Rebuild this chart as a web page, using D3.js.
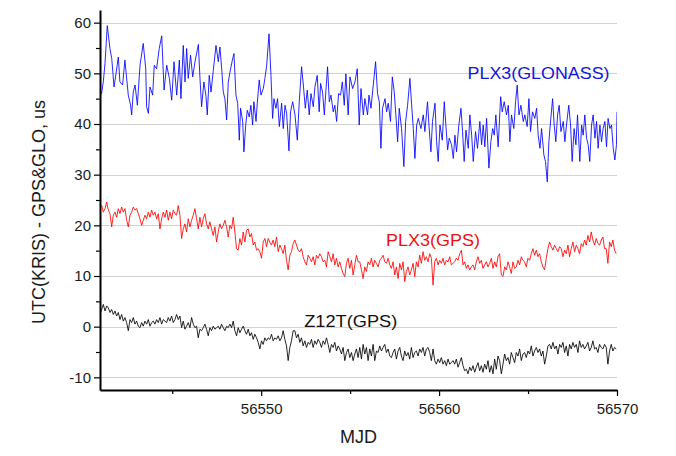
<!DOCTYPE html>
<html><head><meta charset="utf-8">
<script src="https://cdn.jsdelivr.net/npm/d3@7"></script>
<style>body{margin:0;background:#fff}svg{display:block}text{font-family:"Liberation Sans",Arial,sans-serif}</style>
</head><body><svg id="c" width="676" height="456"></svg>
<script>
// ---- data ----
const xTicks = [56550, 56560, 56570];
const xMinorTicks = [56545, 56555, 56565];
const yTicks = [-10, 0, 10, 20, 30, 40, 50, 60];
const yMinorTicks = [-5, 5, 15, 25, 35, 45, 55];
const xLabel = "MJD";
const yLabel = "UTC(KRIS) - GPS&GLO, us";
const seriesNames = ["PLX3(GLONASS)", "PLX3(GPS)", "Z12T(GPS)"];

const gloMJD = [
56540.94,56541.03,56541.13,56541.22,56541.35,56541.50,56541.60,56541.73,56541.84,56541.97,
56542.06,56542.21,56542.34,56542.53,56542.66,56542.72,56542.81,56542.91,56543.04,56543.19,
56543.37,56543.51,56543.56,56543.66,56543.75,56543.90,56543.99,56544.12,56544.27,56544.41,
56544.54,56544.69,56544.84,56544.97,56545.10,56545.25,56545.40,56545.49,56545.62,56545.72,
56545.81,56545.90,56546.03,56546.15,56546.28,56546.47,56546.56,56546.65,56546.78,56546.90,
56546.97,56547.08,56547.18,56547.31,56547.46,56547.59,56547.68,56547.78,56547.87,56547.96,
56548.06,56548.15,56548.28,56548.38,56548.47,56548.58,56548.68,56548.77,56548.84,56548.96,
56549.03,56549.13,56549.22,56549.33,56549.42,56549.52,56549.59,56549.71,56549.78,56549.89,
56549.99,56550.12,56550.21,56550.31,56550.44,56550.55,56550.64,56550.72,56550.83,56550.92,
56551.02,56551.15,56551.24,56551.34,56551.43,56551.56,56551.65,56551.77,56551.90,56552.03,
56552.14,56552.27,56552.37,56552.48,56552.59,56552.70,56552.80,56552.93,56553.02,56553.15,
56553.26,56553.34,56553.45,56553.55,56553.64,56553.73,56553.83,56553.92,56554.05,56554.14,
56554.24,56554.35,56554.46,56554.56,56554.67,56554.76,56554.89,56554.99,56555.14,56555.27,
56555.40,56555.51,
56555.61,56555.74,56555.83,56555.98,56556.06,56556.17,56556.30,56556.43,56556.54,56556.64,
56556.73,56556.82,56556.96,56557.05,56557.14,56557.27,56557.37,56557.48,56557.57,56557.67,
56557.76,56557.89,56558.02,56558.12,56558.23,56558.36,56558.45,56558.55,56558.64,56558.74,
56558.83,56558.98,56559.11,56559.20,56559.35,56559.43,56559.54,56559.63,56559.77,56559.86,
56559.95,56560.05,56560.18,56560.29,56560.38,56560.48,56560.57,56560.70,56560.80,56560.89,
56560.98,56561.11,56561.23,56561.32,56561.41,56561.51,56561.64,56561.73,56561.83,56561.92,
56562.05,56562.16,56562.29,56562.39,56562.48,56562.57,56562.67,56562.80,56562.91,56563.01,
56563.10,56563.19,56563.32,56563.46,56563.55,56563.66,56563.79,56563.89,56563.98,56564.07,
56564.20,56564.30,56564.39,56564.49,56564.60,56564.73,56564.82,56564.95,56565.05,56565.14,
56565.25,56565.38,56565.48,56565.57,56565.67,56565.76,56565.89,56565.98,56566.08,56566.17,
56566.28,56566.38,56566.47,56566.56,56566.66,56566.75,56566.85,56566.98,56567.07,56567.16,
56567.29,56567.39,56567.48,56567.59,56567.69,56567.78,56567.91,56568.01,56568.10,56568.19,
56568.29,56568.38,56568.47,56568.57,56568.66,56568.76,56568.85,56568.94,56569.04,56569.13,
56569.22,56569.32,56569.41,56569.50,56569.60,56569.69,56569.79,56569.88,56569.97,56570.00
];
const gloUs = [
46.5,46.0,48.5,51.9,59.4,54.9,52.9,47.3,49.9,53.2,
48.3,47.7,52.6,45.7,43.7,41.8,46.3,47.7,43.7,51.6,
55.9,50.9,43.4,42.1,47.3,45.7,51.6,50.9,54.9,57.4,
46.7,51.6,49.0,44.7,52.3,45.7,52.6,45.0,55.5,48.3,
54.9,49.0,53.6,49.3,52.3,55.7,49.0,43.4,48.3,45.4,
41.8,49.6,46.3,50.6,55.5,52.3,55.2,50.9,46.3,45.0,
40.8,48.3,50.9,52.6,53.9,45.7,44.1,36.8,43.1,40.5,
34.5,39.8,42.7,41.4,43.7,39.8,44.4,40.5,44.1,48.7,
45.7,47.0,49.0,51.6,57.8,49.6,41.1,45.0,43.1,45.0,
39.5,44.1,39.1,43.7,42.1,34.7,42.4,44.4,41.8,36.8,
44.4,51.3,47.7,43.1,46.7,41.8,46.0,43.4,47.3,49.6,
42.4,48.0,46.3,41.8,46.7,51.3,44.4,45.7,42.4,43.7,
40.5,46.0,45.7,48.3,43.7,49.9,41.8,49.3,47.0,48.3,
50.9,39.8,
47.0,41.8,45.0,41.8,45.7,43.1,47.7,52.3,46.0,44.4,
35.2,43.1,45.0,42.4,44.1,40.5,49.3,46.3,41.8,36.5,
43.1,39.1,31.6,40.5,43.7,49.0,44.1,39.1,33.2,39.8,
41.1,39.1,41.8,38.5,44.4,39.8,34.5,40.5,44.1,36.5,
32.6,39.8,36.8,44.4,39.8,34.9,37.2,35.9,33.2,37.8,
34.5,39.8,43.1,38.5,32.6,38.8,35.2,41.8,37.8,32.6,
38.5,35.2,40.5,35.9,39.8,35.5,41.1,31.3,36.5,39.1,
37.8,41.8,35.5,45.4,42.4,44.4,41.8,43.7,36.5,41.8,
39.1,44.4,47.7,41.8,43.7,40.5,41.8,39.5,45.0,38.5,
42.4,41.1,43.1,37.8,35.2,39.1,33.9,32.6,28.6,36.5,
41.1,45.0,39.8,36.5,41.8,43.7,38.5,40.5,36.5,39.8,
43.7,39.8,32.6,39.1,35.9,41.8,32.6,39.8,37.8,41.8,
37.2,35.9,32.6,39.8,41.8,37.2,40.5,35.2,39.8,36.5,
39.1,40.5,35.5,41.1,39.1,39.8,35.2,32.9,35.9,42.4
];

// GPS series: regular sampling starting at gpsStartMJD with gpsStepMJD
const gpsStartMJD = 56540.94;
const gpsStepMJD = 0.0936;
const plx3GpsUs = [
23.6,23.9,22.6,23.3,24.6,23.0,22.3,19.7,22.0,22.6,
21.6,23.3,22.3,23.6,22.6,23.3,21.0,19.7,22.0,22.6,
23.6,23.0,23.3,22.3,21.3,20.0,21.0,22.0,21.3,22.6,
21.6,23.0,22.0,22.6,21.3,22.3,19.3,21.3,22.6,21.6,
23.0,21.0,22.6,21.3,23.0,22.3,22.0,23.9,22.0,17.4,
19.3,20.3,18.7,21.3,19.7,21.0,22.0,23.3,21.3,19.3,
21.6,19.7,21.3,22.3,20.3,19.3,20.7,19.3,18.0,19.7,
16.7,18.7,20.3,19.3,20.0,21.0,19.7,17.7,20.0,19.3,
21.6,18.7,15.4,15.1,17.4,16.1,18.7,16.7,19.0,19.3,
17.7,18.4,16.1,16.7,15.1,15.4,14.8,13.5,16.7,17.4,
15.8,17.4,16.7,16.1,17.1,15.8,17.7,14.8,16.1,15.4,
14.4,16.1,13.1,11.2,14.1,14.8,16.4,17.1,16.1,15.1,
14.8,15.4,13.8,12.8,12.2,14.1,13.5,12.8,13.8,12.2,
14.1,13.5,14.4,13.8,12.8,13.1,11.8,14.8,13.8,12.8,
14.4,12.2,13.5,11.8,12.8,11.5,10.5,9.9,12.5,13.5,
11.5,13.1,10.2,12.2,14.1,12.8,
12.8,11.2,9.5,11.8,10.9,12.8,12.2,13.5,11.8,13.1,
12.5,11.8,13.1,13.5,14.1,12.8,12.5,13.5,12.2,11.5,
12.8,10.2,11.8,9.5,12.5,11.2,12.8,8.9,10.9,11.8,
10.2,11.2,12.5,9.9,12.8,11.8,14.1,12.5,14.8,13.1,
13.8,12.8,14.4,13.5,8.2,12.8,13.5,12.2,13.1,12.5,
13.5,12.2,13.1,12.8,13.8,12.2,12.5,12.8,13.5,13.1,
14.4,15.1,12.2,12.8,11.5,12.2,11.2,11.8,12.2,11.2,
12.8,13.8,12.5,13.1,11.5,12.2,12.8,11.8,12.5,13.5,
11.5,12.8,11.8,13.8,14.4,10.2,9.9,11.8,11.2,12.8,
11.8,10.5,12.8,11.5,11.8,13.1,12.2,13.8,13.1,12.8,
11.8,13.5,13.1,14.4,15.4,14.1,15.1,13.8,14.4,12.8,
11.8,11.2,13.5,15.4,16.7,15.8,15.1,16.1,15.4,14.8,
15.8,15.4,13.8,15.1,14.4,16.1,13.8,15.4,16.7,14.8,
16.1,15.4,14.4,16.4,15.8,17.1,16.1,18.0,16.7,18.7,
17.1,16.1,17.4,16.4,16.1,17.1,17.7,15.4,15.4,12.5,
16.7,15.8,17.1,15.1,14.4
];
const z12tGpsUs = [
2.4,3.4,4.4,3.1,4.1,3.7,2.8,3.4,2.4,3.1,
2.1,2.8,1.4,2.4,1.1,1.8,0.8,-0.8,1.4,0.8,
1.8,0.5,1.1,0.1,-0.2,0.8,0.1,1.1,0.5,1.4,
0.1,0.8,1.1,0.5,1.4,0.8,1.8,0.5,1.4,1.1,
0.8,1.8,1.1,2.1,0.8,1.4,2.4,1.4,2.1,-0.2,
1.1,-0.5,0.1,0.8,-0.2,1.8,0.5,-0.2,0.1,-2.2,
-0.5,-0.8,-0.2,0.5,-0.5,-1.8,-0.2,-0.8,0.1,-0.5,
-0.2,0.1,-0.5,0.5,-0.2,-0.8,0.1,-0.2,0.5,-0.2,
1.1,-0.8,-1.8,-0.2,-1.2,-0.5,0.1,-0.8,-1.5,-0.5,
-1.8,-1.2,-2.5,-1.5,-2.2,-3.1,-4.4,-2.8,-3.5,-2.2,
-2.8,-2.2,-2.5,-1.5,-2.8,-2.2,-2.5,-1.8,-2.8,-2.2,
-0.8,-2.5,-3.8,-6.7,-4.1,-2.8,-0.8,-0.8,-2.2,-1.5,
-3.1,-2.2,-3.8,-2.8,-4.1,-3.1,-3.5,-2.5,-4.1,-2.8,
-3.5,-2.5,-3.1,-4.1,-2.8,-3.5,-2.2,-3.5,-5.1,-3.5,
-4.1,-3.1,-4.8,-3.8,-4.4,-5.4,-4.1,-6.7,-5.1,-4.4,
-6.1,-5.1,-6.7,-5.4,-4.4,-6.1,
-4.1,-6.4,-3.5,-5.4,-4.1,-6.7,-4.4,-5.8,-3.5,-6.7,
-4.8,-5.1,-3.8,-4.8,-4.1,-3.5,-5.1,-4.4,-5.8,-6.1,
-5.1,-4.4,-6.4,-4.8,-4.1,-5.8,-6.7,-4.8,-5.8,-5.1,
-6.4,-4.1,-6.1,-5.1,-4.8,-5.8,-4.4,-5.1,-4.1,-5.8,
-4.4,-4.1,-5.1,-6.7,-4.4,-6.7,-7.4,-6.4,-7.1,-6.1,
-7.4,-6.7,-7.7,-6.4,-7.4,-7.1,-6.7,-7.4,-6.4,-8.0,
-7.1,-6.1,-7.7,-8.7,-8.4,-9.3,-8.0,-8.7,-7.7,-9.0,
-8.0,-7.1,-8.7,-7.7,-9.0,-7.4,-8.4,-6.7,-9.0,-7.7,
-9.3,-6.4,-8.4,-5.8,-6.7,-9.3,-7.4,-5.4,-6.7,-6.1,
-7.4,-5.1,-6.1,-7.1,-5.1,-5.8,-4.4,-6.7,-5.4,-5.1,
-6.1,-4.8,-5.4,-3.8,-5.8,-4.8,-4.1,-5.1,-4.4,-5.8,
-4.8,-7.4,-5.8,-3.8,-3.5,-4.4,-3.1,-4.4,-3.8,-5.4,
-3.5,-4.1,-3.1,-5.1,-3.8,-5.8,-3.5,-4.4,-3.1,-4.1,
-3.5,-5.1,-2.8,-4.1,-3.5,-4.4,-3.8,-3.1,-4.8,-4.1,
-2.8,-4.4,-4.1,-5.1,-3.5,-4.1,-4.4,-3.5,-4.1,-7.4,
-4.8,-3.5,-4.8,-4.1,-4.4
];

// ---- chart ----
const svg = d3.select("#c");
const L = 100, R = 617, T = 10, B = 390;
const x = d3.scaleLinear().domain([56540.94, 56570]).range([L, R]);
const y = d3.scaleLinear().domain([-12.5, 62.5]).range([B, T]);

svg.append("defs").append("clipPath").attr("id", "clip")
  .append("rect").attr("x", L).attr("y", T).attr("width", R - L).attr("height", B - T);

// grid
svg.append("g").selectAll("line").data(yTicks).join("line")
  .attr("x1", L).attr("x2", R)
  .attr("y1", d => Math.round(y(d)) + 0.5).attr("y2", d => Math.round(y(d)) + 0.5)
  .attr("stroke", "#d2d2d2").attr("stroke-width", 1);

const line = d3.line().x(d => x(d[0])).y(d => y(d[1]));
const gloData = gloMJD.map((m, i) => [m, gloUs[i]]);
const plxData = plx3GpsUs.map((v, i) => [gpsStartMJD + i * gpsStepMJD, v]);
const z12Data = z12tGpsUs.map((v, i) => [gpsStartMJD + i * gpsStepMJD, v]);

const lines = svg.append("g").attr("clip-path", "url(#clip)");
[[gloData, "#0000ff"], [plxData, "#ff0000"], [z12Data, "#000000"]].forEach(([d, c]) => {
  lines.append("path").datum(d).attr("d", line)
    .attr("fill", "none").attr("stroke", c).attr("stroke-width", 0.85)
    .attr("stroke-linejoin", "round");
});

// axes (hyphen-minus tick labels as in the original)
const fmt = d => String(d);
svg.append("g").attr("transform", `translate(0,${B})`)
  .call(d3.axisBottom(x).tickValues(xTicks).tickFormat(fmt).tickSize(6).tickSizeOuter(0).tickPadding(7));
svg.append("g").attr("transform", `translate(0,${B})`)
  .call(d3.axisBottom(x).tickValues(xMinorTicks).tickFormat("").tickSize(4).tickSizeOuter(0))
  .select(".domain").remove();
svg.append("g").attr("transform", `translate(${L},0)`)
  .call(d3.axisLeft(y).tickValues(yTicks).tickFormat(fmt).tickSize(6).tickSizeOuter(0).tickPadding(3));
svg.append("g").attr("transform", `translate(${L},0)`)
  .call(d3.axisLeft(y).tickValues(yMinorTicks).tickFormat("").tickSize(4).tickSizeOuter(0))
  .select(".domain").remove();

svg.selectAll(".domain").attr("stroke", "#000").attr("stroke-width", 2);
svg.selectAll(".tick line").attr("stroke", "#000").attr("stroke-width", 1.2);
svg.selectAll(".tick text").attr("font-size", 15).attr("fill", "#1a1a1a")
  .attr("font-family", '"Liberation Sans",Arial,sans-serif');

// axis titles
svg.append("text").attr("x", (L + R) / 2).attr("y", 443).attr("text-anchor", "middle")
  .attr("font-size", 18).attr("fill", "#1a1a1a").text(xLabel);
svg.append("text").attr("transform", "translate(45,212) rotate(-90)").attr("text-anchor", "middle")
  .attr("font-size", 18).attr("fill", "#1a1a1a").text(yLabel);

// series labels
const labelSpecs = [
  {name: seriesNames[0], mjd: 56561.6, us: 48.9, color: "#1414d8", len: 142},
  {name: seriesNames[1], mjd: 56557.01, us: 16.0, color: "#ee1111", len: 94},
  {name: seriesNames[2], mjd: 56552.42, us: -0.1, color: "#111111", len: 93}
];
svg.append("g").selectAll("text").data(labelSpecs).join("text")
  .attr("x", d => x(d.mjd)).attr("y", d => y(d.us))
  .attr("font-size", 17).attr("fill", d => d.color)
  .attr("textLength", d => d.len).attr("lengthAdjust", "spacingAndGlyphs")
  .text(d => d.name);
</script></body></html>
